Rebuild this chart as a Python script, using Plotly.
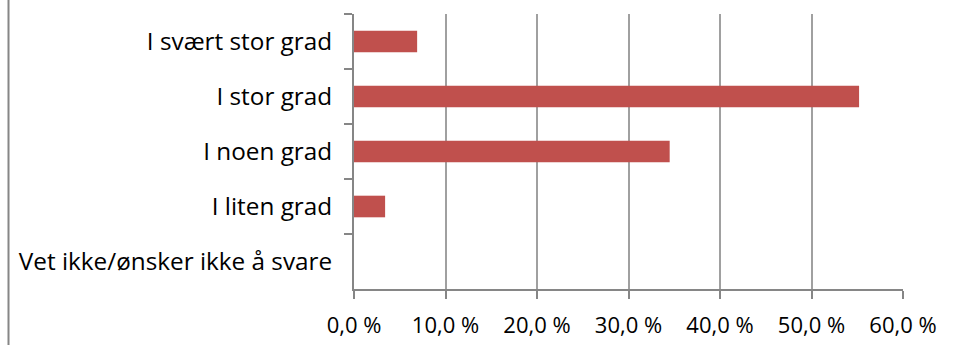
import plotly.graph_objects as go

categories = ["I svært stor grad", "I stor grad", "I noen grad", "I liten grad", "Vet ikke/ønsker ikke å svare"]
values = [6.9, 55.2, 34.5, 3.4, 0.0]
tick_vals = [0, 10, 20, 30, 40, 50, 60]
tick_text = ["0,0 %", "10,0 %", "20,0 %", "30,0 %", "40,0 %", "50,0 %", "60,0 %"]

W, H = 957, 351
ml, mr, mt, mb = 354, 54, 14, 57
plot_w = W - ml - mr

fig = go.Figure(go.Bar(
    x=values, y=categories, orientation="h",
    marker=dict(color="#C0504D", line=dict(width=0)),
))

font = dict(family="Open Sans, Calibri, sans-serif", size=22, color="#000000")
axis_col = "#868686"

fig.update_layout(
    width=W, height=H,
    margin=dict(l=ml, r=mr, t=mt, b=mb, pad=0),
    paper_bgcolor="white", plot_bgcolor="white",
    bargap=0.607,
    showlegend=False,
    font=font,
    xaxis=dict(
        range=[0, 60], tickvals=tick_vals, ticktext=tick_text,
        showgrid=True, gridcolor="#A0A0A0", gridwidth=1.5,
        showline=True, linecolor=axis_col, linewidth=2,
        ticks="outside", ticklen=8, tickwidth=2, tickcolor=axis_col,
        ticklabelstandoff=8, zeroline=False, fixedrange=True,
    ),
    yaxis=dict(
        categoryorder="array", categoryarray=categories, autorange="reversed",
        showgrid=False, showline=True, linecolor=axis_col, linewidth=2,
        ticks="outside", ticklen=8, tickwidth=2, tickcolor=axis_col,
        tickson="boundaries", ticklabelstandoff=15, zeroline=False,
        tickfont=dict(family="Open Sans, Calibri, sans-serif", size=24.3, color="#000000"),
    ),
    shapes=[dict(
        type="line", xref="paper", yref="paper",
        x0=(8.5 - ml) / plot_w, x1=(8.5 - ml) / plot_w,
        y0=-mb / (H - mt - mb), y1=(H - mb) / (H - mt - mb) + 0.1,
        line=dict(color=axis_col, width=2),
    )],
)

fig.write_html("out.html")
